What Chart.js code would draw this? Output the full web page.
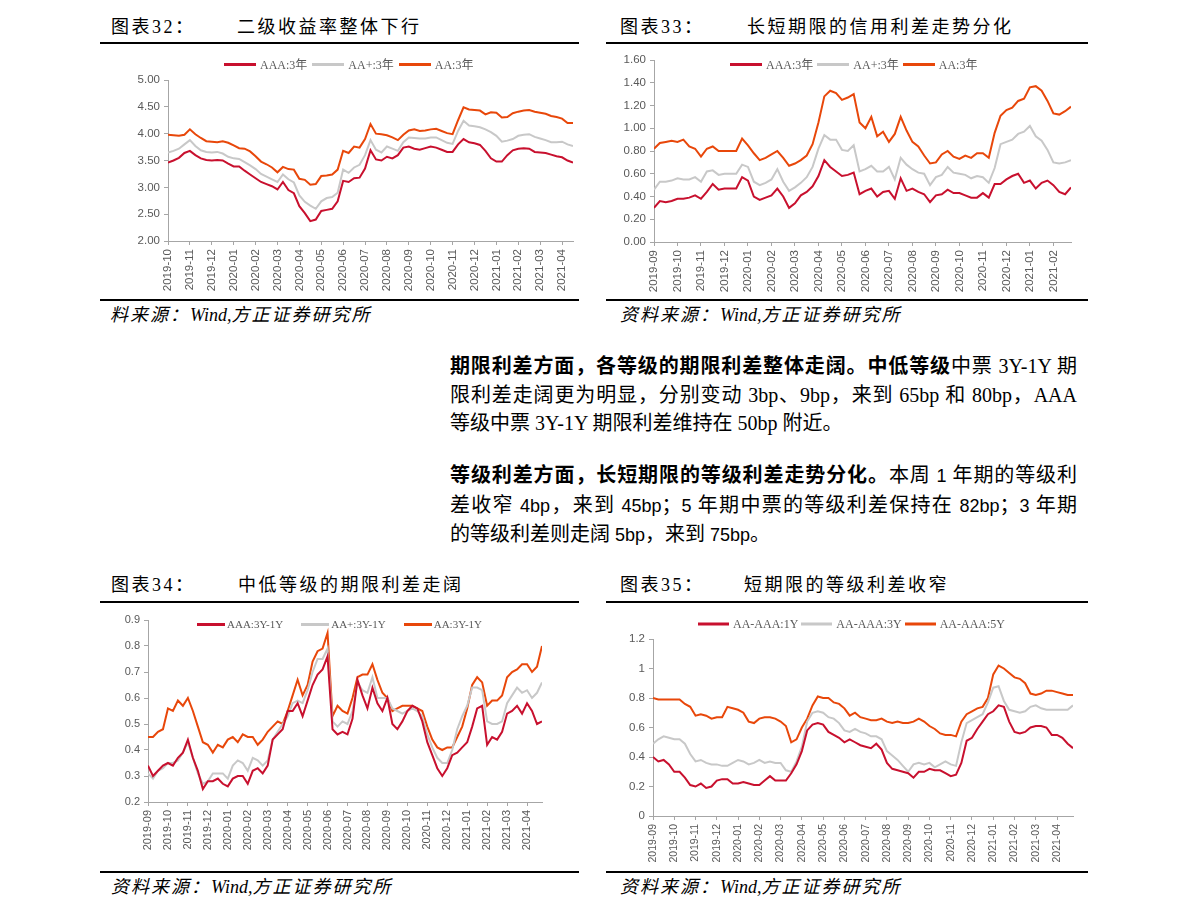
<!DOCTYPE html>
<html lang="zh-CN">
<head>
<meta charset="utf-8">
<title>信用利差周报</title>
<script src="https://cdn.jsdelivr.net/npm/chart.js@4.4.1/dist/chart.umd.min.js"></script>
<style>
  html, body { margin: 0; padding: 0; background: #fff; }
  body { position: relative; width: 1191px; height: 918px; overflow: hidden;
         font-family: "Liberation Serif", "Noto Sans CJK SC", serif; color: #000; }
  .abs { position: absolute; white-space: nowrap; }
  .fig-no, .fig-title { font-size: 18px; line-height: 24px; letter-spacing: 2.5px; }
  .rule { position: absolute; background: #000; height: 2px; }
  .source { font-size: 18px; line-height: 22px; font-style: italic; letter-spacing: 2px; }
  .source .w { letter-spacing: 0; font-family: "Liberation Serif", serif; }
  .para { position: absolute; left: 450px; width: 627px; font-size: 20px; line-height: 28.5px; }
  .para .ln { white-space: nowrap; }
  .para .j { text-align: justify; text-align-last: justify; white-space: normal; }
  .para b { font-weight: 700; }
  .para .n { font-family: "Liberation Sans Narrow", "Liberation Sans", sans-serif; font-size: 18px; }
  .legend { position: absolute; display: flex; align-items: center; white-space: nowrap;
            font-family: "Liberation Serif", "Noto Sans CJK SC", serif; color: #595959; transform: translateY(-50%); }
  .legend i { display: inline-block; height: 3px; }
</style>
</head>
<body>

<!-- 图表32 -->
<div class="abs fig-no" style="left:111px;top:15px">图表32：</div>
<div class="abs fig-title" style="left:237px;top:15px">二级收益率整体下行</div>
<div class="rule" style="left:100px;top:42px;width:479px"></div>
<div class="rule" style="left:100px;top:299px;width:479px"></div>
<div class="abs source" style="left:110px;top:304px">料来源：<span class="w">Wind,</span>方正证券研究所</div>

<!-- 图表33 -->
<div class="abs fig-no" style="left:620px;top:15px">图表33：</div>
<div class="abs fig-title" style="left:747px;top:15px">长短期限的信用利差走势分化</div>
<div class="rule" style="left:606px;top:42px;width:482px"></div>
<div class="rule" style="left:606px;top:299px;width:482px"></div>
<div class="abs source" style="left:620px;top:304px">资料来源：<span class="w">Wind,</span>方正证券研究所</div>

<!-- 正文 -->
<div class="para" style="top:352px">
  <div class="ln j"><b>期限利差方面，各等级的期限利差整体走阔。中低等级</b>中票 3Y-1Y 期</div>
  <div class="ln j">限利差走阔更为明显，分别变动 3bp、9bp，来到 65bp 和 80bp，AAA</div>
  <div class="ln">等级中票 3Y-1Y 期限利差维持在 50bp 附近。</div>
</div>
<div class="para" style="top:461px">
  <div class="ln j"><b>等级利差方面，长短期限的等级利差走势分化。</b>本周 <span class="n">1</span> 年期的等级利</div>
  <div class="ln j">差收窄 <span class="n">4bp</span>，来到 <span class="n">45bp</span>；<span class="n">5</span> 年期中票的等级利差保持在 <span class="n">82bp</span>；<span class="n">3</span> 年期</div>
  <div class="ln">的等级利差则走阔 <span class="n">5bp</span>，来到 <span class="n">75bp</span>。</div>
</div>

<!-- 图表34 -->
<div class="abs fig-no" style="left:111px;top:573px">图表34：</div>
<div class="abs fig-title" style="left:238px;top:573px">中低等级的期限利差走阔</div>
<div class="rule" style="left:100px;top:601px;width:479px"></div>
<div class="rule" style="left:100px;top:871px;width:479px"></div>
<div class="abs source" style="left:111px;top:876px">资料来源：<span class="w">Wind,</span>方正证券研究所</div>

<!-- 图表35 -->
<div class="abs fig-no" style="left:620px;top:573px">图表35：</div>
<div class="abs fig-title" style="left:744px;top:573px">短期限的等级利差收窄</div>
<div class="rule" style="left:606px;top:601px;width:482px"></div>
<div class="rule" style="left:606px;top:871px;width:482px"></div>
<div class="abs source" style="left:620px;top:876px">资料来源：<span class="w">Wind,</span>方正证券研究所</div>

<script>
// values sampled four times a month, first value at the first month label
const PER_MONTH = 4;

// ---- 图表32: 二级收益率 (%)
const monthsFig32 = ['2019-10', '2019-11', '2019-12', '2020-01', '2020-02', '2020-03', '2020-04', '2020-05', '2020-06', '2020-07',
  '2020-08', '2020-09', '2020-10', '2020-11', '2020-12', '2021-01', '2021-02', '2021-03', '2021-04'];
const aaa3Fig32 = [3.46, 3.50, 3.55, 3.64, 3.68, 3.60, 3.54, 3.51, 3.50, 3.51,
  3.50, 3.44, 3.39, 3.39, 3.31, 3.24, 3.17, 3.10, 3.06, 3.02,
  2.96, 3.10, 2.95, 2.89, 2.65, 2.52, 2.37, 2.40, 2.56, 2.58,
  2.60, 2.74, 3.12, 3.10, 3.17, 3.18, 3.35, 3.69, 3.52, 3.50,
  3.57, 3.54, 3.60, 3.74, 3.76, 3.72, 3.70, 3.73, 3.76, 3.74,
  3.70, 3.66, 3.66, 3.80, 3.90, 3.84, 3.82, 3.79, 3.68, 3.54,
  3.48, 3.48, 3.60, 3.69, 3.72, 3.73, 3.72, 3.66, 3.65, 3.64,
  3.61, 3.58, 3.56, 3.50, 3.46];
const aaPlus3Fig32 = [3.65, 3.68, 3.72, 3.80, 3.88, 3.77, 3.69, 3.66, 3.65, 3.66,
  3.63, 3.57, 3.54, 3.53, 3.47, 3.41, 3.34, 3.25, 3.20, 3.15,
  3.10, 3.24, 3.15, 3.09, 2.85, 2.73, 2.66, 2.60, 2.74, 2.80,
  2.82, 2.90, 3.33, 3.27, 3.37, 3.42, 3.60, 3.88, 3.70, 3.65,
  3.76, 3.72, 3.68, 3.84, 3.93, 3.92, 3.91, 3.91, 3.93, 3.93,
  3.88, 3.83, 3.81, 4.05, 4.24, 4.15, 4.14, 4.12, 4.08, 4.03,
  3.96, 3.85, 3.87, 3.90, 3.96, 3.98, 3.99, 3.94, 3.91, 3.88,
  3.84, 3.84, 3.85, 3.80, 3.77];
const aa3Fig32 = [3.98, 3.97, 3.96, 3.98, 4.08, 3.99, 3.92, 3.86, 3.85, 3.84,
  3.86, 3.83, 3.78, 3.73, 3.72, 3.67, 3.58, 3.48, 3.43, 3.37,
  3.28, 3.38, 3.34, 3.33, 3.16, 3.14, 3.05, 3.06, 3.21, 3.22,
  3.24, 3.33, 3.68, 3.64, 3.76, 3.74, 3.90, 4.18, 4.00, 3.99,
  3.97, 3.93, 3.88, 3.98, 4.06, 4.08, 4.05, 4.06, 4.08, 4.09,
  4.05, 4.01, 3.99, 4.25, 4.49, 4.45, 4.44, 4.43, 4.36, 4.40,
  4.39, 4.30, 4.31, 4.38, 4.41, 4.43, 4.44, 4.41, 4.39, 4.37,
  4.33, 4.31, 4.28, 4.20, 4.20];

// ---- 图表33: 信用利差 (%)
const monthsFig33 = ['2019-09', '2019-10', '2019-11', '2019-12', '2020-01', '2020-02', '2020-03', '2020-04', '2020-05', '2020-06',
  '2020-07', '2020-08', '2020-09', '2020-10', '2020-11', '2020-12', '2021-01', '2021-02'];
const aaa3Fig33 = [0.30, 0.36, 0.35, 0.36, 0.38, 0.38, 0.39, 0.41, 0.38, 0.44,
  0.51, 0.46, 0.47, 0.47, 0.47, 0.57, 0.54, 0.40, 0.37, 0.39,
  0.41, 0.47, 0.40, 0.30, 0.34, 0.41, 0.44, 0.49, 0.58, 0.72,
  0.66, 0.62, 0.58, 0.59, 0.61, 0.42, 0.45, 0.47, 0.40, 0.44,
  0.45, 0.38, 0.56, 0.45, 0.47, 0.44, 0.42, 0.35, 0.41, 0.42,
  0.46, 0.43, 0.43, 0.41, 0.39, 0.39, 0.43, 0.39, 0.51, 0.51,
  0.55, 0.58, 0.60, 0.52, 0.54, 0.47, 0.52, 0.54, 0.50, 0.44,
  0.42, 0.48];
const aaPlus3Fig33 = [0.46, 0.53, 0.53, 0.54, 0.56, 0.55, 0.55, 0.57, 0.53, 0.62,
  0.63, 0.59, 0.60, 0.60, 0.60, 0.68, 0.66, 0.53, 0.50, 0.52,
  0.55, 0.64, 0.53, 0.45, 0.48, 0.52, 0.57, 0.66, 0.82, 0.94,
  0.90, 0.90, 0.81, 0.80, 0.85, 0.62, 0.64, 0.67, 0.62, 0.62,
  0.66, 0.55, 0.74, 0.68, 0.64, 0.61, 0.60, 0.50, 0.57, 0.59,
  0.66, 0.61, 0.60, 0.59, 0.56, 0.58, 0.57, 0.52, 0.65, 0.86,
  0.88, 0.90, 0.95, 0.97, 1.02, 0.93, 0.89, 0.81, 0.70, 0.69,
  0.70, 0.72];
const aa3Fig33 = [0.82, 0.87, 0.88, 0.89, 0.88, 0.90, 0.84, 0.82, 0.75, 0.82,
  0.84, 0.80, 0.80, 0.80, 0.80, 0.91, 0.85, 0.78, 0.72, 0.74,
  0.77, 0.80, 0.74, 0.67, 0.69, 0.72, 0.76, 0.86, 1.05, 1.28,
  1.33, 1.31, 1.25, 1.27, 1.30, 1.05, 1.00, 1.10, 0.93, 0.97,
  0.88, 0.95, 1.10, 0.98, 0.88, 0.84, 0.76, 0.69, 0.70, 0.77,
  0.80, 0.75, 0.73, 0.76, 0.74, 0.78, 0.78, 0.74, 0.96, 1.11,
  1.16, 1.18, 1.24, 1.26, 1.36, 1.37, 1.33, 1.24, 1.13, 1.12,
  1.15, 1.19];

// ---- 图表34: 3Y-1Y 期限利差 (%)
const monthsFig34 = ['2019-09', '2019-10', '2019-11', '2019-12', '2020-01', '2020-02', '2020-03', '2020-04', '2020-05', '2020-06',
  '2020-07', '2020-08', '2020-09', '2020-10', '2020-11', '2020-12', '2021-01', '2021-02', '2021-03', '2021-04'];
const aaaTermFig34 = [0.34, 0.30, 0.32, 0.34, 0.35, 0.34, 0.37, 0.39, 0.44, 0.37,
  0.32, 0.25, 0.28, 0.28, 0.29, 0.27, 0.26, 0.29, 0.30, 0.30,
  0.27, 0.32, 0.33, 0.31, 0.34, 0.44, 0.46, 0.48, 0.55, 0.55,
  0.58, 0.53, 0.59, 0.65, 0.69, 0.71, 0.76, 0.48, 0.46, 0.47,
  0.46, 0.52, 0.67, 0.61, 0.56, 0.64, 0.58, 0.55, 0.60, 0.50,
  0.48, 0.51, 0.55, 0.57, 0.56, 0.51, 0.43, 0.38, 0.33, 0.30,
  0.33, 0.38, 0.39, 0.41, 0.43, 0.49, 0.56, 0.57, 0.42, 0.45,
  0.44, 0.47, 0.54, 0.55, 0.57, 0.54, 0.58, 0.55, 0.50, 0.51];
const aaPlusTermFig34 = [0.31, 0.29, 0.32, 0.33, 0.35, 0.35, 0.36, 0.39, 0.43, 0.37,
  0.31, 0.27, 0.28, 0.31, 0.31, 0.31, 0.29, 0.34, 0.36, 0.35,
  0.32, 0.37, 0.36, 0.34, 0.36, 0.44, 0.47, 0.50, 0.53, 0.58,
  0.59, 0.58, 0.63, 0.70, 0.75, 0.75, 0.79, 0.51, 0.49, 0.51,
  0.50, 0.55, 0.66, 0.63, 0.62, 0.68, 0.60, 0.60, 0.60, 0.56,
  0.55, 0.54, 0.55, 0.56, 0.55, 0.53, 0.46, 0.41, 0.37, 0.35,
  0.35, 0.40, 0.48, 0.53, 0.57, 0.64, 0.64, 0.63, 0.51, 0.50,
  0.50, 0.51, 0.58, 0.61, 0.64, 0.62, 0.63, 0.60, 0.62, 0.66];
const aaTermFig34 = [0.45, 0.45, 0.47, 0.48, 0.56, 0.55, 0.59, 0.57, 0.60, 0.55,
  0.49, 0.43, 0.42, 0.39, 0.42, 0.41, 0.44, 0.45, 0.43, 0.46,
  0.45, 0.45, 0.42, 0.44, 0.47, 0.49, 0.51, 0.50, 0.55, 0.61,
  0.67, 0.61, 0.65, 0.74, 0.78, 0.79, 0.85, 0.53, 0.57, 0.55,
  0.54, 0.60, 0.68, 0.69, 0.69, 0.73, 0.67, 0.62, 0.60, 0.55,
  0.56, 0.57, 0.57, 0.57, 0.56, 0.55, 0.49, 0.44, 0.41, 0.40,
  0.41, 0.41, 0.45, 0.49, 0.56, 0.65, 0.68, 0.66, 0.57, 0.59,
  0.59, 0.61, 0.68, 0.70, 0.71, 0.73, 0.73, 0.70, 0.72, 0.80];

// ---- 图表35: 等级利差 (%)
const monthsFig35 = monthsFig34;
const gap1yFig35 = [0.40, 0.37, 0.38, 0.35, 0.30, 0.30, 0.26, 0.21, 0.20, 0.22,
  0.19, 0.20, 0.24, 0.25, 0.25, 0.22, 0.22, 0.23, 0.22, 0.21,
  0.21, 0.24, 0.27, 0.24, 0.24, 0.24, 0.29, 0.35, 0.44, 0.58,
  0.62, 0.63, 0.62, 0.57, 0.55, 0.53, 0.50, 0.52, 0.50, 0.48,
  0.47, 0.46, 0.49, 0.45, 0.36, 0.32, 0.31, 0.30, 0.29, 0.26,
  0.30, 0.30, 0.32, 0.31, 0.31, 0.29, 0.27, 0.28, 0.36, 0.51,
  0.53, 0.59, 0.64, 0.69, 0.71, 0.75, 0.74, 0.64, 0.57, 0.56,
  0.57, 0.60, 0.61, 0.61, 0.60, 0.55, 0.55, 0.53, 0.49, 0.46];
const gap3yFig35 = [0.49, 0.52, 0.54, 0.53, 0.52, 0.52, 0.49, 0.42, 0.37, 0.38,
  0.36, 0.35, 0.35, 0.34, 0.34, 0.36, 0.38, 0.37, 0.35, 0.36,
  0.38, 0.36, 0.37, 0.36, 0.36, 0.31, 0.30, 0.37, 0.47, 0.64,
  0.70, 0.71, 0.70, 0.67, 0.66, 0.63, 0.58, 0.57, 0.59, 0.57,
  0.56, 0.54, 0.54, 0.52, 0.44, 0.41, 0.38, 0.34, 0.30, 0.35,
  0.36, 0.35, 0.36, 0.33, 0.35, 0.37, 0.35, 0.34, 0.50, 0.63,
  0.65, 0.67, 0.69, 0.77, 0.87, 0.88, 0.78, 0.72, 0.71, 0.70,
  0.71, 0.74, 0.75, 0.73, 0.72, 0.72, 0.72, 0.72, 0.72, 0.75];
const gap5yFig35 = [0.80, 0.79, 0.79, 0.79, 0.79, 0.79, 0.76, 0.74, 0.68, 0.69,
  0.68, 0.66, 0.67, 0.67, 0.74, 0.73, 0.72, 0.70, 0.64, 0.63,
  0.66, 0.67, 0.67, 0.66, 0.64, 0.61, 0.50, 0.52, 0.60, 0.66,
  0.75, 0.81, 0.80, 0.80, 0.77, 0.76, 0.73, 0.68, 0.70, 0.67,
  0.66, 0.65, 0.65, 0.66, 0.64, 0.63, 0.64, 0.63, 0.63, 0.64,
  0.66, 0.64, 0.61, 0.59, 0.56, 0.55, 0.55, 0.54, 0.64, 0.69,
  0.71, 0.73, 0.74, 0.80, 0.96, 1.02, 1.00, 0.97, 0.94, 0.93,
  0.90, 0.83, 0.82, 0.83, 0.85, 0.85, 0.84, 0.83, 0.82, 0.82];

const RED = '#c8102e';
const GRAY = '#c8c8c8';
const ORANGE = '#e8470a';
const AXIS_GRAY = '#a6a6a6';
const TICK_GRAY = '#595959';

// fixed gutters round the plot area, so the plot lands where the report has it
const Y_AXIS_W = 50, PAD_TOP = 10, PAD_RIGHT = 10, X_AXIS_H = 62;

Chart.defaults.font.family = '"Liberation Sans", Arial, sans-serif';

function toPoints(values) {
	return values.map(function (v, i) { return { x: i / PER_MONTH, y: v }; });
}

function buildLegend(chart, lg) {
	const box = document.createElement('div');
	box.className = 'legend';
	box.style.left = lg.left + 'px';
	box.style.top = lg.cy + 'px';
	box.style.fontSize = lg.font + 'px';
	chart.data.datasets.forEach(function (ds, i) {
		const sw = document.createElement('i');
		sw.style.width = lg.swatch + 'px';
		sw.style.background = ds.borderColor;
		sw.style.marginLeft = (i === 0 ? 0 : lg.itemGap) + 'px';
		sw.style.marginRight = lg.gap + 'px';
		const tx = document.createElement('span');
		tx.textContent = ds.label;
		box.appendChild(sw);
		box.appendChild(tx);
	});
	document.body.appendChild(box);
}

function makeChart(spec) {
	const left = spec.plot.left - Y_AXIS_W;
	const top = spec.plot.top - PAD_TOP;
	const width = spec.plot.right + PAD_RIGHT - left;
	const height = spec.plot.bottom + X_AXIS_H - top;

	const canvas = document.createElement('canvas');
	canvas.width = width;
	canvas.height = height;
	canvas.style.cssText = 'position:absolute;left:' + left + 'px;top:' + top + 'px;width:' + width + 'px;height:' + height + 'px';
	document.body.appendChild(canvas);

	const chart = new Chart(canvas, {
		type: 'line',
		data: {
			datasets: spec.series.map(function (s) {
				return {
					label: s.label,
					data: toPoints(s.values),
					borderColor: s.color,
					backgroundColor: s.color,
					borderWidth: 2,
					pointRadius: 0,
					tension: 0,
				};
			}),
		},
		options: {
			responsive: false,
			animation: false,
			devicePixelRatio: 1,
			layout: { padding: { top: PAD_TOP, right: PAD_RIGHT, left: 0, bottom: 0 } },
			plugins: { legend: { display: false }, tooltip: { enabled: false } },
			scales: {
				x: {
					type: 'linear',
					min: 0,
					max: spec.xMax,
					afterFit: function (s) { s.height = X_AXIS_H; s.paddingLeft = 0; s.paddingRight = 0; },
					grid: { drawOnChartArea: false, tickLength: 4, color: AXIS_GRAY },
					border: { color: AXIS_GRAY, width: 1 },
					ticks: {
						stepSize: 1,
						includeBounds: false,
						autoSkip: false,
						minRotation: 90,
						maxRotation: 90,
						padding: 4,
						color: TICK_GRAY,
						font: { size: spec.xFont },
						callback: function (v) {
							const m = spec.months[v];
							return m === undefined ? null : m;
						},
					},
				},
				y: {
					min: spec.yMin,
					max: spec.yMax,
					afterFit: function (s) { s.width = Y_AXIS_W; s.paddingTop = 0; s.paddingBottom = 0; },
					grid: { drawOnChartArea: false, tickLength: 4, color: AXIS_GRAY },
					border: { color: AXIS_GRAY, width: 1 },
					ticks: {
						stepSize: spec.yStep,
						padding: 4,
						color: TICK_GRAY,
						font: { size: spec.yFont },
						callback: spec.yFormat,
					},
				},
			},
		},
	});

	buildLegend(chart, spec.legend);
	return chart;
}

const fixed2 = function (v) { return v.toFixed(2); };
const fixed1 = function (v) { return v.toFixed(1); };
const plain1 = function (v) { return String(Math.round(v * 10) / 10); };

makeChart({
	plot: { left: 168, top: 80, right: 573, bottom: 241 },
	xMax: 18.5, months: monthsFig32, xFont: 11.5,
	yMin: 2, yMax: 5, yStep: 0.5, yFont: 11.5, yFormat: fixed2,
	series: [
		{ label: 'AAA:3年', values: aaa3Fig32, color: RED },
		{ label: 'AA+:3年', values: aaPlus3Fig32, color: GRAY },
		{ label: 'AA:3年', values: aa3Fig32, color: ORANGE },
	],
	legend: { left: 224, cy: 64, font: 12, swatch: 32, gap: 4, itemGap: 5 },
});

makeChart({
	plot: { left: 654, top: 60, right: 1071, bottom: 242 },
	xMax: 17.75, months: monthsFig33, xFont: 11.5,
	yMin: 0, yMax: 1.6, yStep: 0.2, yFont: 11.5, yFormat: fixed2,
	series: [
		{ label: 'AAA:3年', values: aaa3Fig33, color: RED },
		{ label: 'AA+:3年', values: aaPlus3Fig33, color: GRAY },
		{ label: 'AA:3年', values: aa3Fig33, color: ORANGE },
	],
	legend: { left: 730, cy: 64, font: 12, swatch: 32, gap: 4, itemGap: 4 },
});

makeChart({
	plot: { left: 148, top: 620, right: 542, bottom: 802 },
	xMax: 19.75, months: monthsFig34, xFont: 11,
	yMin: 0.2, yMax: 0.9, yStep: 0.1, yFont: 11, yFormat: fixed1,
	series: [
		{ label: 'AAA:3Y-1Y', values: aaaTermFig34, color: RED },
		{ label: 'AA+:3Y-1Y', values: aaPlusTermFig34, color: GRAY },
		{ label: 'AA:3Y-1Y', values: aaTermFig34, color: ORANGE },
	],
	legend: { left: 197, cy: 624, font: 11, swatch: 28, gap: 2, itemGap: 18 },
});

makeChart({
	plot: { left: 653, top: 639, right: 1073, bottom: 816 },
	xMax: 19.75, months: monthsFig35, xFont: 10.5,
	yMin: 0, yMax: 1.2, yStep: 0.2, yFont: 11.5, yFormat: plain1,
	series: [
		{ label: 'AA-AAA:1Y', values: gap1yFig35, color: RED },
		{ label: 'AA-AAA:3Y', values: gap3yFig35, color: GRAY },
		{ label: 'AA-AAA:5Y', values: gap5yFig35, color: ORANGE },
	],
	legend: { left: 698, cy: 624, font: 12, swatch: 31, gap: 4, itemGap: 3 },
});
</script>
</body>
</html>
